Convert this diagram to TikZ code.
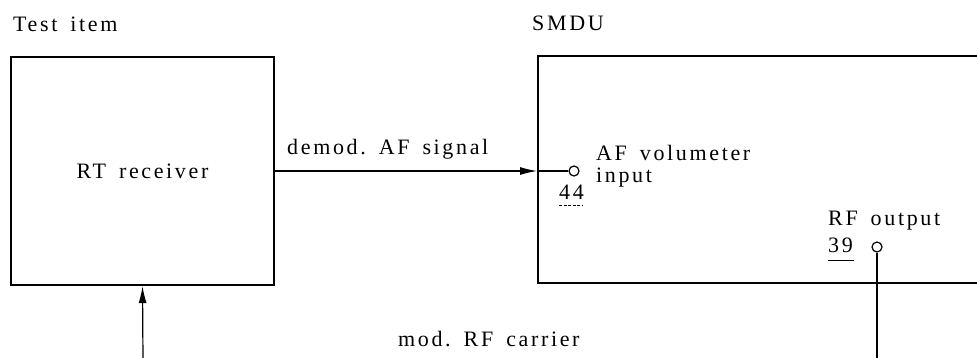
\documentclass[tikz,border=0pt]{standalone}
\usepackage{fontspec}
\setmainfont{Liberation Serif}[LetterSpace=12]
\usetikzlibrary{arrows.meta}
\newcommand{\wsp}{\hspace{13pt}}
\tikzset{
  box/.style={draw, line width=2.3pt, inner sep=0pt},
  txt/.style={font=\fontsize{22}{24}\selectfont},
  lbl/.style={txt, anchor=base west, inner sep=0pt},
  port/.style={circle, draw, line width=1.2pt, fill=white, inner sep=0pt, minimum size=10pt},
  conn/.style={line width=1.2pt},
  arr/.style={conn, -{Latex[length=17pt, width=8pt]}}
}
\begin{document}
\begin{tikzpicture}[x=1pt, y=-1pt]
\useasboundingbox (0,0) rectangle (977,357);
\clip (0,0) rectangle (977,357);
% boxes
\node[box, txt, minimum width=263pt, minimum height=228pt] (rx) at (142.5,171) {RT\wsp{}receiver};
\node[box, anchor=north west, minimum width=470pt, minimum height=227pt] (smdu) at (537,55) {};
% titles
\node[lbl] (t1) at (13,31) {Test\wsp{}item};
\node[lbl] (t2) at (532,30) {SMDU};
% ports
\node[port] (p44) at (574,171) {};
\node[port] (p39) at (877,247) {};
% connectors
\coordinate (smduin) at (smdu.west |- rx.east);
\draw[arr] (rx.east) -- (smduin);
\draw[conn] (smduin) -- (p44);
\coordinate (b1) at (143,360);
\draw[arr] (b1) -- (rx.south);
\coordinate (b2) at (877,360);
\draw[conn] (p39) -- (b2);
% labels
\node[lbl] (l1) at (287,154) {demod.\wsp{}AF\wsp{}signal};
\node[lbl] (l2) at (596,160) {AF\wsp{}volumeter};
\node[lbl] (l3) at (596,182) {input};
\node[lbl] (l4) at (559,199) {44};
\draw[line width=0.8pt, dash pattern=on 3pt off 1.5pt] ([yshift=-6pt]l4.base west) -- ++(24,0);
\node[lbl] (l5) at (828,225) {RF\wsp{}output};
\node[lbl] (l6) at (828,252) {39};
\draw[line width=0.8pt] ([yshift=-8pt]l6.base west) -- ++(26,0);
\node[lbl] (l7) at (398,346) {mod.\wsp{}RF\wsp{}carrier};
\end{tikzpicture}
\end{document}
